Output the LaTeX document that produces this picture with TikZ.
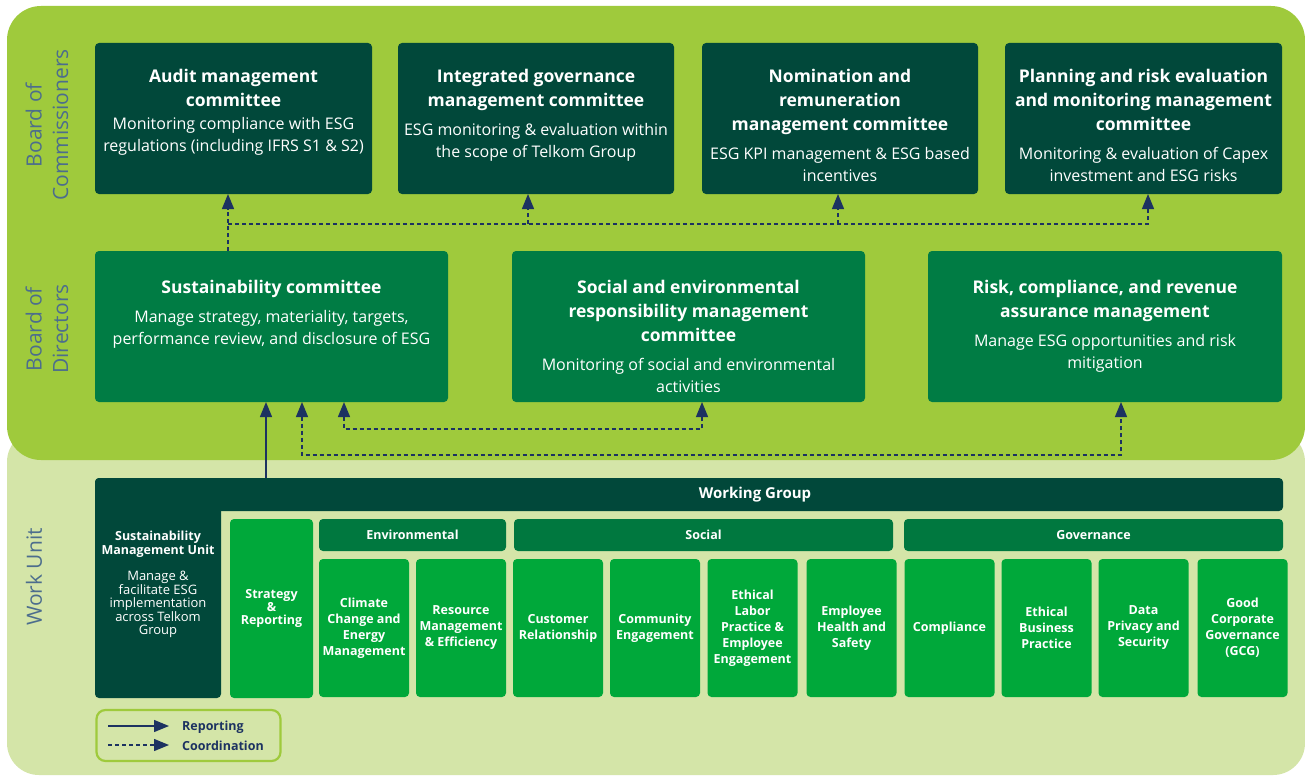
\documentclass[tikz,border=0pt]{standalone}
\usepackage{fontspec}
\setmainfont{Open Sans}
\usetikzlibrary{arrows.meta}
\definecolor{panelA}{HTML}{9FCA3C}
\definecolor{panelB}{HTML}{D4E5A8}
\definecolor{darkg}{HTML}{01483A}
\definecolor{dirg}{HTML}{007C44}
\definecolor{headg}{HTML}{00783F}
\definecolor{brightg}{HTML}{00A83A}
\definecolor{navy}{HTML}{1C3261}
\definecolor{sidec}{HTML}{4C6D8D}
\tikzset{
  box/.style={rounded corners=4pt, inner sep=0pt, outer sep=0pt},
  topbox/.style={box, fill=darkg},
  dirbox/.style={box, fill=dirg},
  headbox/.style={box, fill=headg, text=white, font=\fontsize{12.5}{16}\selectfont\bfseries},
  smallbox/.style={box, fill=brightg, text=white, align=center, minimum width=90pt, minimum height=138pt, font=\fontsize{12.5}{16}\selectfont\bfseries},
  hd/.style={text=white, align=center, inner sep=0pt, anchor=north, font=\fontsize{17.5}{24}\selectfont\bfseries},
  bd/.style={text=white, align=center, inner sep=0pt, anchor=north, font=\fontsize{16}{22}\selectfont},
  side/.style={text=sidec, align=center, rotate=90, inner sep=0pt, font=\fontsize{21}{26.5}\selectfont},
  coordl/.style={navy, line width=1.3pt, dash pattern=on 4pt off 3pt},
  reportl/.style={navy, line width=1.3pt},
  tip/.style={-{Triangle[length=15pt,width=12pt]}},
  tipb/.style={{Triangle[length=15pt,width=12pt]}-{Triangle[length=15pt,width=12pt]}},
  legtext/.style={text=navy, anchor=west, inner sep=0pt, font=\fontsize{12.5}{16}\selectfont\bfseries}
}
\begin{document}
\begin{tikzpicture}[x=1pt,y=-1pt]
\useasboundingbox (0,0) rectangle (1305,776);
\fill[white] (0,0) rectangle (1305,776);
% panels
\fill[panelB, rounded corners=32pt] (7,430) rectangle (1305,775);
\fill[panelA, rounded corners=34pt] (7,6) rectangle (1305,460);

% side labels
\node[side] (sl1) at (47,125) {Board of\\Commissioners};
\node[side] (sl2) at (47,329) {Board of\\Directors};
\node[side] (sl3) at (34,577) {Work Unit};

% board of commissioners committees
\node[topbox, minimum width=277pt, minimum height=151pt] (c1) at (233.5,118.5) {};
\node[topbox, minimum width=276pt, minimum height=151pt] (c2) at (536,118.5) {};
\node[topbox, minimum width=276pt, minimum height=151pt] (c3) at (840,118.5) {};
\node[topbox, minimum width=277pt, minimum height=151pt] (c4) at (1143.5,118.5) {};
\node[hd] (c1h) at (233.5,69) {Audit management\\committee};
\node[bd] (c1b) at (233.5,117.5) {Monitoring compliance with ESG\\regulations (including IFRS S1 \& S2)};
\node[hd] (c2h) at (536,69) {Integrated governance\\management committee};
\node[bd] (c2b) at (536,123.5) {ESG monitoring \& evaluation within\\the scope of Telkom Group};
\node[hd] (c3h) at (840,69) {Nomination and\\remuneration\\management committee};
\node[bd] (c3b) at (840,147.5) {ESG KPI management \& ESG based\\incentives};
\node[hd] (c4h) at (1143.5,69) {Planning and risk evaluation\\and monitoring management\\committee};
\node[bd] (c4b) at (1143.5,147.5) {Monitoring \& evaluation of Capex\\investment and ESG risks};

% board of directors committees
\node[dirbox, minimum width=353pt, minimum height=151pt] (d1) at (271.5,326.5) {};
\node[dirbox, minimum width=353pt, minimum height=151pt] (d2) at (688.5,326.5) {};
\node[dirbox, minimum width=354pt, minimum height=151pt] (d3) at (1105,326.5) {};
\node[hd] (d1h) at (271.5,280) {Sustainability committee};
\node[bd] (d1b) at (271.5,310.5) {Manage strategy, materiality, targets,\\performance review, and disclosure of ESG};
\node[hd] (d2h) at (688.5,280) {Social and environmental\\responsibility management\\committee};
\node[bd] (d2b) at (688.5,358.5) {Monitoring of social and environmental\\activities};
\node[hd] (d3h) at (1105,280) {Risk, compliance, and revenue\\assurance management};
\node[bd] (d3b) at (1105,334.5) {Manage ESG opportunities and risk\\mitigation};

% coordination between boards
\coordinate (ta) at (228,224);
\coordinate (tb) at (528,224);
\coordinate (tc) at (838,224);
\coordinate (td) at (1148,224);
\draw[coordl, tip] (d1.north -| ta) -- (c1.south -| ta);
\draw[coordl, tip] (ta) -- (td) -- (c4.south -| td);
\draw[coordl, tip] (tb) -- (c2.south -| tb);
\draw[coordl, tip] (tc) -- (c3.south -| tc);

% work unit
\node[box, fill=darkg, minimum width=1188pt, minimum height=33pt] (wg) at (689,494.5) {};
\node[box, fill=darkg, minimum width=126pt, minimum height=220pt] (smu) at (158,588) {};
\node[text=white, inner sep=0pt, font=\fontsize{15}{17}\selectfont\bfseries] (wgt) at (755,494.5) {Working Group};
\node[text=white, align=center, anchor=north, inner sep=0pt, font=\fontsize{12.5}{14}\selectfont\bfseries] (smuh) at (158,531) {Sustainability\\Management Unit};
\node[text=white, align=center, anchor=north, inner sep=0pt, font=\fontsize{13}{13.5}\selectfont] (smub) at (158,571) {Manage \&\\facilitate ESG\\implementation\\across Telkom\\Group};

\node[headbox, minimum width=187pt, minimum height=32pt] (env) at (412.5,535) {Environmental};
\node[headbox, minimum width=379pt, minimum height=32pt] (soc) at (703.5,535) {Social};
\node[headbox, minimum width=379pt, minimum height=32pt] (gov) at (1093.5,535) {Governance};

\node[smallbox, minimum width=83pt, minimum height=179pt, font=\fontsize{12.5}{13}\selectfont\bfseries] (sr) at (271.5,608.5) {Strategy\\\&\\Reporting};
\node[smallbox] (s1) at (364,628) {Climate\\Change and\\Energy\\Management};
\node[smallbox] (s2) at (461,628) {Resource\\Management\\\& Efficiency};
\node[smallbox] (s3) at (558,628) {Customer\\Relationship};
\node[smallbox] (s4) at (655,628) {Community\\Engagement};
\node[smallbox] (s5) at (752.5,628) {Ethical\\Labor\\Practice \&\\Employee\\Engagement};
\node[smallbox] (s6) at (851.5,628) {Employee\\Health and\\Safety};
\node[smallbox] (s7) at (949.5,628) {Compliance};
\node[smallbox] (s8) at (1046.5,628) {Ethical\\Business\\Practice};
\node[smallbox] (s9) at (1143.5,628) {Data\\Privacy and\\Security};
\node[smallbox] (s10) at (1242.5,628) {Good\\Corporate\\Governance\\(GCG)};

% reporting / coordination to directors
\coordinate (r1) at (266,0);
\draw[reportl, tip] (wg.north -| r1) -- (d1.south -| r1);
\coordinate (b1) at (302,455);
\coordinate (b2) at (1121,455);
\draw[coordl, tipb] (d1.south -| b1) -- (b1) -- (b2) -- (d3.south -| b2);
\coordinate (e1) at (344,429);
\coordinate (e2) at (702,429);
\draw[coordl, tipb] (d1.south -| e1) -- (e1) -- (e2) -- (d2.south -| e2);

% legend
\node[rounded corners=9pt, draw=panelA, line width=2.2pt, fill=panelB, minimum width=184pt, minimum height=51pt, inner sep=0pt] (leg) at (188.5,735.5) {};
\coordinate (la1) at (108,726);
\coordinate (la2) at (169,726);
\coordinate (lb1) at (108,745);
\coordinate (lb2) at (169,745);
\draw[reportl, tip] (la1) -- (la2);
\draw[coordl, tip] (lb1) -- (lb2);
\node[legtext] (lr) at (182,727) {Reporting};
\node[legtext] (lc) at (182,746) {Coordination};
\end{tikzpicture}
\end{document}
